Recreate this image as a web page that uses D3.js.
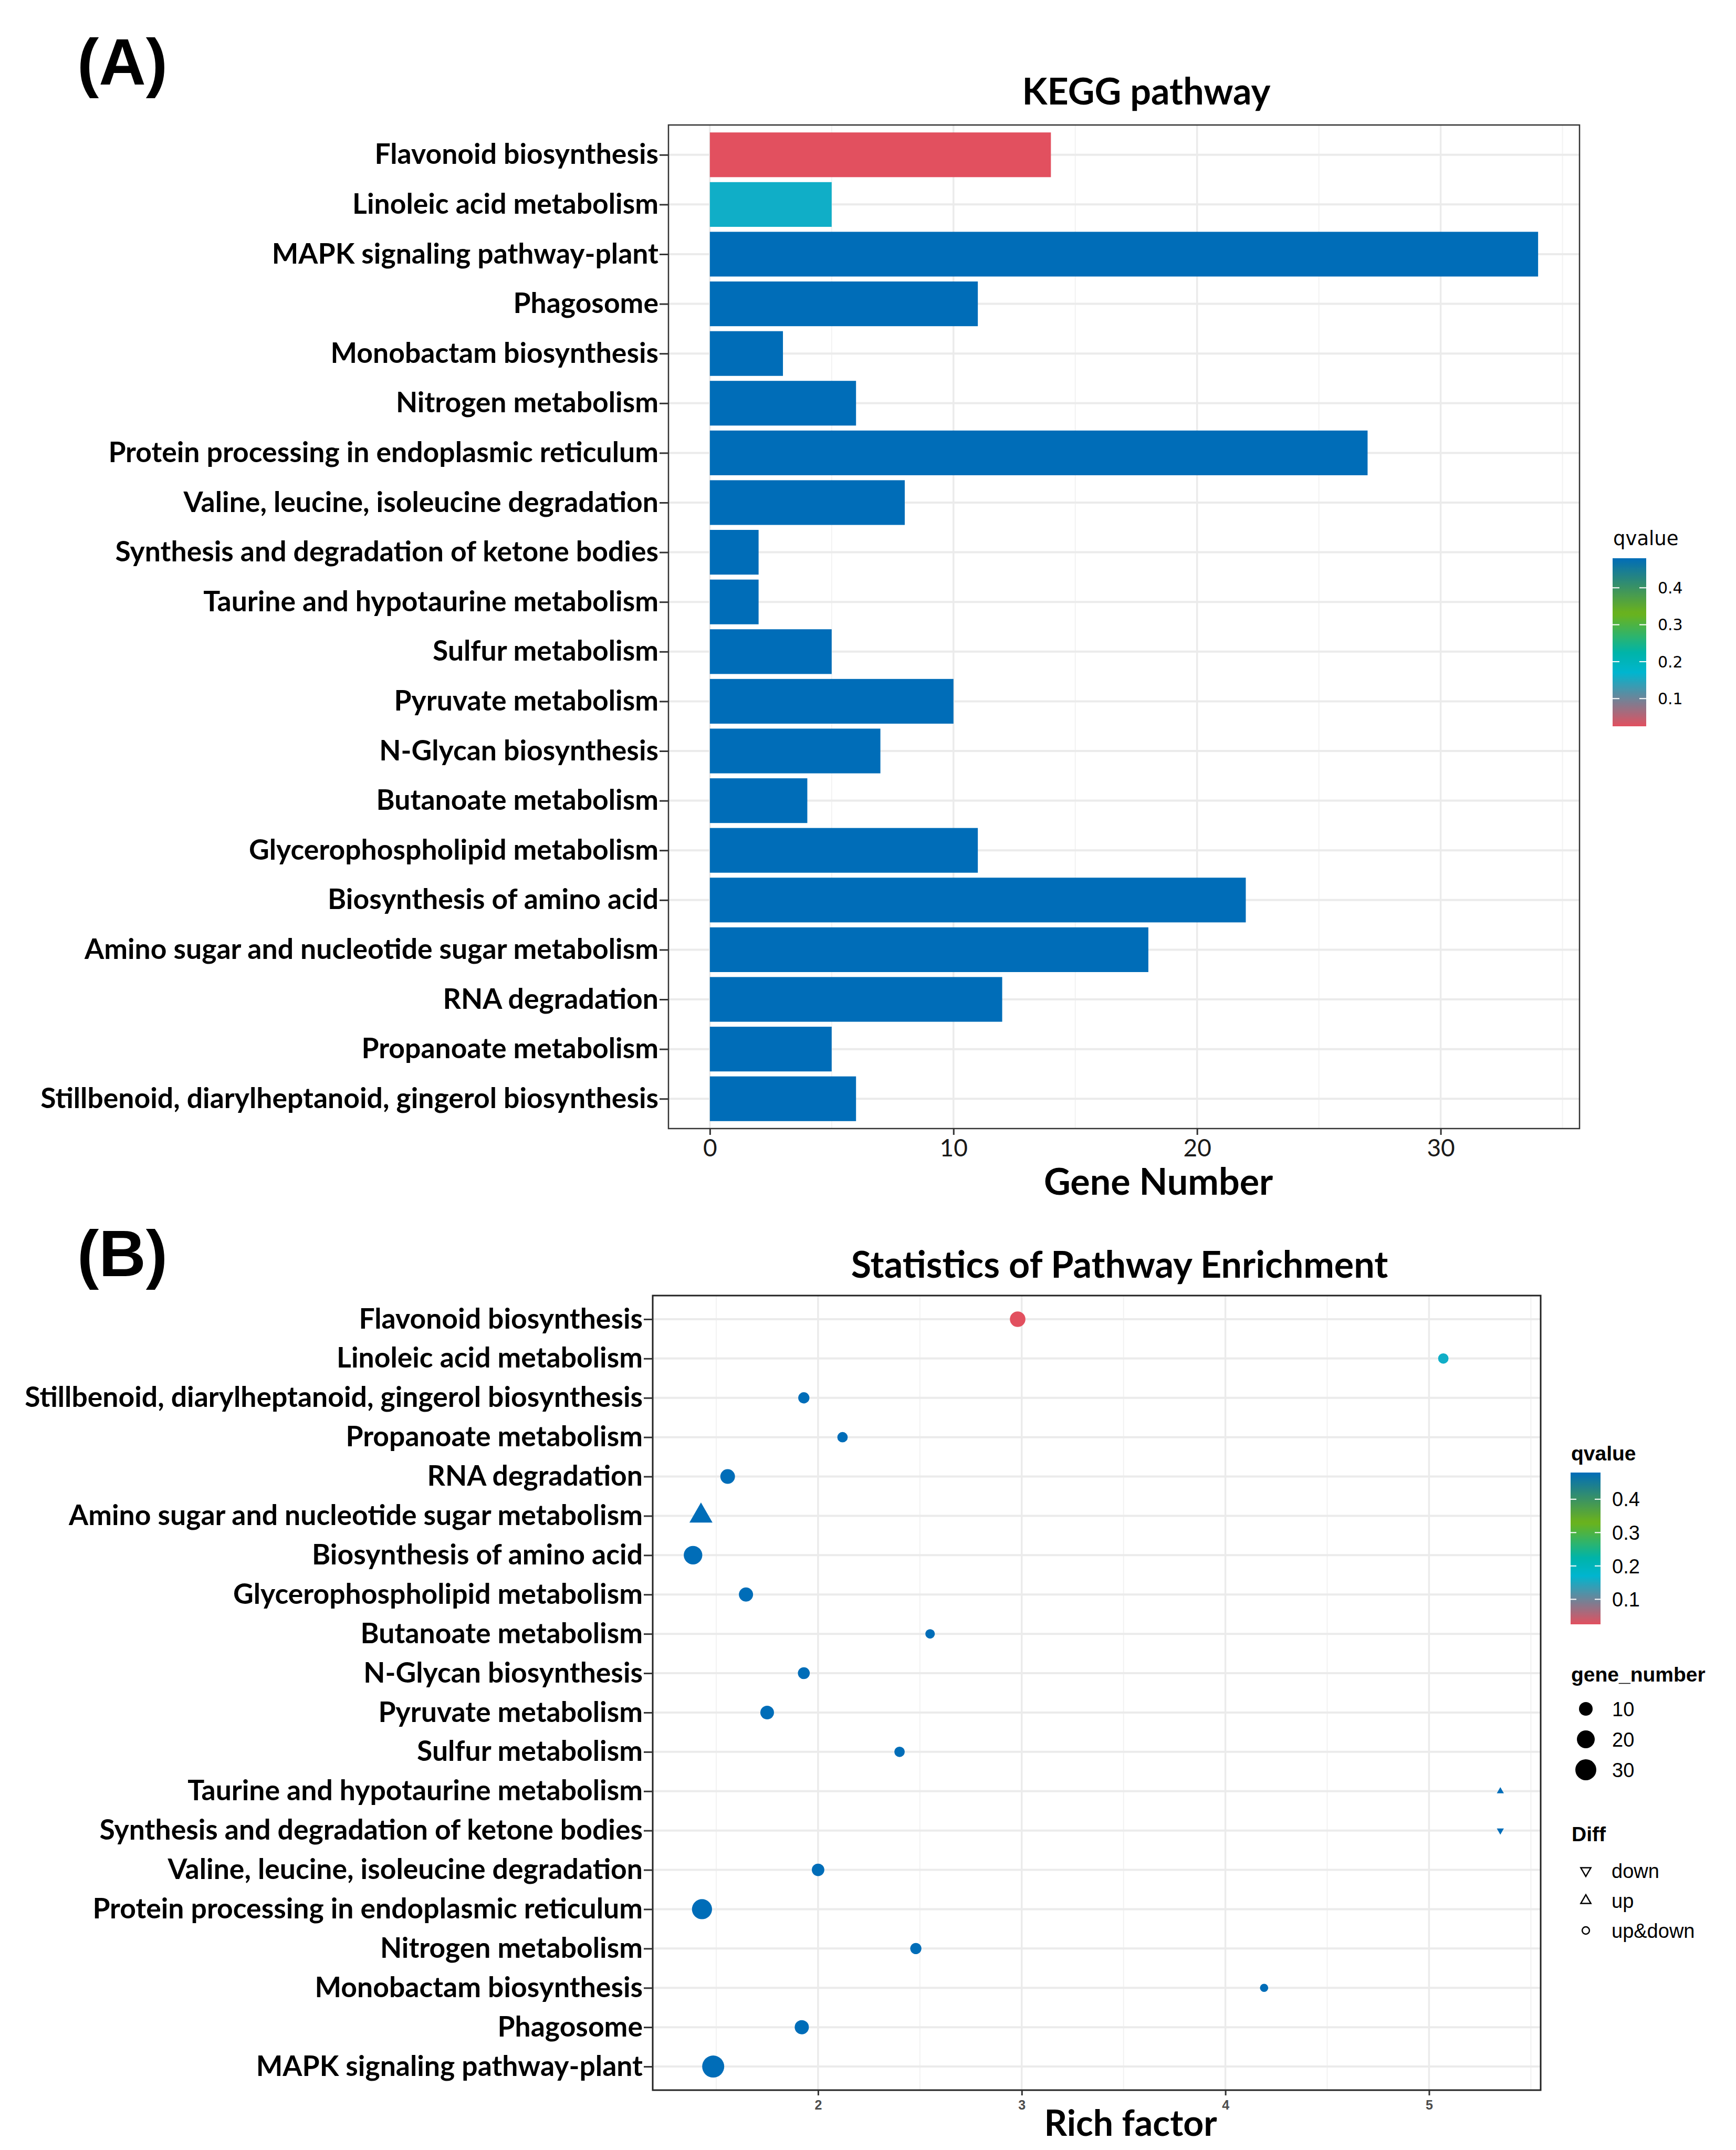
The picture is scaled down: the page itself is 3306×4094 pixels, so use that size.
<!DOCTYPE html>
<html>
<head>
<meta charset="utf-8">
<script src="https://cdn.jsdelivr.net/npm/d3@7"></script>
<style>
	body { margin: 0; background: #fff; }
	svg { display: block; }
</style>
</head>
<body>
<svg id="fig"></svg>
<script>
//Pathways in the order of panel (A), top to bottom.
const pathwaysA = [
	'Flavonoid biosynthesis',
	'Linoleic acid metabolism',
	'MAPK signaling pathway-plant',
	'Phagosome',
	'Monobactam biosynthesis',
	'Nitrogen metabolism',
	'Protein processing in endoplasmic reticulum',
	'Valine, leucine, isoleucine degradation',
	'Synthesis and degradation of ketone bodies',
	'Taurine and hypotaurine metabolism',
	'Sulfur metabolism',
	'Pyruvate metabolism',
	'N-Glycan biosynthesis',
	'Butanoate metabolism',
	'Glycerophospholipid metabolism',
	'Biosynthesis of amino acid',
	'Amino sugar and nucleotide sugar metabolism',
	'RNA degradation',
	'Propanoate metabolism',
	'Stillbenoid, diarylheptanoid, gingerol biosynthesis'
];
const geneNumber = [14, 5, 34, 11, 3, 6, 27, 8, 2, 2, 5, 10, 7, 4, 11, 22, 18, 12, 5, 6];
const qvalue = [0.025, 0.16, 0.48, 0.48, 0.48, 0.48, 0.48, 0.48, 0.48, 0.48,
	0.48, 0.48, 0.48, 0.48, 0.48, 0.48, 0.48, 0.48, 0.48, 0.48];

//Pathways in the order of panel (B), top to bottom.
const pathwaysB = [
	'Flavonoid biosynthesis',
	'Linoleic acid metabolism',
	'Stillbenoid, diarylheptanoid, gingerol biosynthesis',
	'Propanoate metabolism',
	'RNA degradation',
	'Amino sugar and nucleotide sugar metabolism',
	'Biosynthesis of amino acid',
	'Glycerophospholipid metabolism',
	'Butanoate metabolism',
	'N-Glycan biosynthesis',
	'Pyruvate metabolism',
	'Sulfur metabolism',
	'Taurine and hypotaurine metabolism',
	'Synthesis and degradation of ketone bodies',
	'Valine, leucine, isoleucine degradation',
	'Protein processing in endoplasmic reticulum',
	'Nitrogen metabolism',
	'Monobactam biosynthesis',
	'Phagosome',
	'MAPK signaling pathway-plant'
];
const richFactor = [2.98, 5.07, 1.93, 2.12, 1.556, 1.425, 1.386, 1.646, 2.55, 1.93,
	1.75, 2.40, 5.35, 5.35, 2.0, 1.43, 2.48, 4.19, 1.92, 1.485];
const diff = ['up&down', 'up&down', 'up&down', 'up&down', 'up&down', 'up', 'up&down', 'up&down', 'up&down', 'up&down',
	'up&down', 'up&down', 'up', 'down', 'up&down', 'up&down', 'up&down', 'up&down', 'up&down', 'up&down'];

const xTicksA = [0, 10, 20, 30];
const xMinorA = [5, 15, 25, 35];
const xTicksB = [2, 3, 4, 5];
const xMinorB = [1.5, 2.5, 3.5, 4.5, 5.5];
const qTicks = [0.1, 0.2, 0.3, 0.4];
const sizeBreaks = [10, 20, 30];
const diffLevels = ['down', 'up', 'up&down'];

const width = 3306, height = 4094;
const svg = d3.select('#fig').attr('width', width).attr('height', height);
svg.append('rect').attr('width', width).attr('height', height).attr('fill', '#fff');

//Shared colour scale for qvalue.
const qDomain = [0.025, 0.48];
const colour = d3.scaleLinear()
	.domain([0.025, 0.17, 0.225, 0.33, 0.48])
	.range(['#E2505F', '#00B5CF', '#00B4A8', '#6CB31A', '#006DB8'])
	.interpolate(d3.interpolateRgb);

//Gene number -> radius, like ggplot's area palette.
const gMin = d3.min(geneNumber), gMax = d3.max(geneNumber);
const norm = d3.scaleLinear().domain([gMin, gMax]).range([0, 1]);
const rad = d3.scaleLinear().domain([0, 1]).range([5, 21]);
const radius = n => rad(Math.sqrt(norm(n)));

const geneOf = new Map(pathwaysA.map((p, i) => [p, geneNumber[i]]));
const qOf = new Map(pathwaysA.map((p, i) => [p, qvalue[i]]));

const labelFont = 'Lato, "Open Sans", sans-serif';
const defs = svg.append('defs');

function gradient(id) {
	const lg = defs.append('linearGradient').attr('id', id)
		.attr('x1', 0).attr('x2', 0).attr('y1', 1).attr('y2', 0);
	d3.range(0, 1.0001, 0.02).forEach(t => {
		lg.append('stop').attr('offset', t)
			.attr('stop-color', colour(qDomain[0] + t * (qDomain[1] - qDomain[0])));
	});
}
gradient('gradA');
gradient('gradB');

function styleGrid(g, x, y, major, minor, rows, left, right, top, bottom) {
	g.selectAll('.minor').data(minor).join('line')
		.attr('x1', d => x(d)).attr('x2', d => x(d))
		.attr('y1', top).attr('y2', bottom)
		.attr('stroke', '#F2F2F2').attr('stroke-width', 2);
	g.selectAll('.major').data(major).join('line')
		.attr('x1', d => x(d)).attr('x2', d => x(d))
		.attr('y1', top).attr('y2', bottom)
		.attr('stroke', '#EBEBEB').attr('stroke-width', 3.5);
	g.selectAll('.row').data(rows).join('line')
		.attr('x1', left).attr('x2', right)
		.attr('y1', d => y(d)).attr('y2', d => y(d))
		.attr('stroke', '#EBEBEB').attr('stroke-width', 4);
}

//Panel (A): bar chart.
function renderA() {
	const left = 1273, right = 3008, top = 238, bottom = 2149;
	const x = d3.scaleLinear().domain([-1.7, 35.7]).range([left, right]);
	const y = d3.scalePoint().domain(pathwaysA).range([top, bottom]).padding(0.6);
	const barH = 0.9 * y.step();
	const g = svg.append('g');

	const grid = g.append('g');
	grid.append('g').call(s => styleGrid(s, x, y, xTicksA, xMinorA, pathwaysA, left, right, top, bottom));

	g.append('g').selectAll('rect').data(pathwaysA).join('rect')
		.attr('x', x(0))
		.attr('y', d => y(d) - barH / 2)
		.attr('width', (d, i) => x(geneNumber[i]) - x(0))
		.attr('height', barH)
		.attr('fill', (d, i) => colour(qvalue[i]));

	g.append('rect')
		.attr('x', left).attr('y', top)
		.attr('width', right - left).attr('height', bottom - top)
		.attr('fill', 'none').attr('stroke', '#333').attr('stroke-width', 2.5);

	//Axes.
	const ax = g.append('g').attr('transform', `translate(0,${bottom})`)
		.call(d3.axisBottom(x).tickValues(xTicksA).tickSize(12).tickFormat(d3.format('d')));
	ax.select('.domain').remove();
	ax.selectAll('line').attr('stroke', '#333').attr('stroke-width', 3);
	ax.selectAll('text').attr('y', 53).attr('dy', null)
		.style('font-family', labelFont).style('font-size', '46px').attr('fill', '#1a1a1a');

	const ay = g.append('g').attr('transform', `translate(${left},0)`)
		.call(d3.axisLeft(y).tickSize(17).tickPadding(2));
	ay.select('.domain').remove();
	ay.selectAll('line').attr('stroke', '#333').attr('stroke-width', 3);
	ay.selectAll('text')
		.style('font-family', labelFont).style('font-size', '53.5px').style('font-weight', 'bold')
		.attr('fill', '#000');

	//Titles.
	g.append('text').text('KEGG pathway')
		.attr('x', 2183).attr('y', 199).attr('text-anchor', 'middle')
		.style('font-family', labelFont).style('font-size', '70px').style('font-weight', 'bold');
	g.append('text').text('Gene Number')
		.attr('x', 2206).attr('y', 2275).attr('text-anchor', 'middle')
		.style('font-family', labelFont).style('font-size', '70px').style('font-weight', 'bold');

	//Colour legend.
	const bar = { x: 3071, y: 1063, w: 64, h: 320 };
	const ly = d3.scaleLinear().domain(qDomain).range([bar.y + bar.h, bar.y]);
	const lg = svg.append('g');
	lg.append('text').text('qvalue')
		.attr('x', 3072).attr('y', 1038)
		.style('font-family', '"DejaVu Sans", sans-serif').style('font-size', '37px');
	lg.append('rect').attr('x', bar.x).attr('y', bar.y).attr('width', bar.w).attr('height', bar.h)
		.attr('fill', 'url(#gradA)');
	lg.selectAll('.tl').data(qTicks).join('line')
		.attr('x1', bar.x).attr('x2', bar.x + 13).attr('y1', d => ly(d)).attr('y2', d => ly(d))
		.attr('stroke', '#fff').attr('stroke-width', 2);
	lg.selectAll('.tr').data(qTicks).join('line')
		.attr('x1', bar.x + bar.w - 13).attr('x2', bar.x + bar.w).attr('y1', d => ly(d)).attr('y2', d => ly(d))
		.attr('stroke', '#fff').attr('stroke-width', 2);
	lg.selectAll('.lab').data(qTicks).join('text')
		.text(d => d.toFixed(1))
		.attr('x', 3157).attr('y', d => ly(d)).attr('dy', '0.36em')
		.style('font-family', '"DejaVu Sans", sans-serif').style('font-size', '30px');
}

//Panel (B): enrichment dot plot.
function renderB() {
	const left = 1243, right = 2934, top = 2467, bottom = 3980;
	const x = d3.scaleLinear().domain([1.188, 5.548]).range([left, right]);
	const y = d3.scalePoint().domain(pathwaysB).range([top, bottom]).padding(0.6);
	const g = svg.append('g');

	g.append('g').call(s => styleGrid(s, x, y, xTicksB, xMinorB.filter(d => x(d) < right), pathwaysB, left, right, top, bottom));

	const sym = { 'up': d3.symbolTriangle, 'down': d3.symbolTriangle, 'up&down': d3.symbolCircle };
	g.append('g').selectAll('path').data(pathwaysB).join('path')
		.attr('d', (d, i) => d3.symbol().type(sym[diff[i]]).size(Math.PI * radius(geneOf.get(d)) ** 2)())
		.attr('transform', (d, i) => `translate(${x(richFactor[i])},${y(d)})` + (diff[i] === 'down' ? ' rotate(180)' : ''))
		.attr('fill', d => colour(qOf.get(d)));

	g.append('rect')
		.attr('x', left).attr('y', top)
		.attr('width', right - left).attr('height', bottom - top)
		.attr('fill', 'none').attr('stroke', '#222').attr('stroke-width', 3);

	const ax = g.append('g').attr('transform', `translate(0,${bottom})`)
		.call(d3.axisBottom(x).tickValues(xTicksB).tickSize(10).tickFormat(d3.format('d')));
	ax.select('.domain').remove();
	ax.selectAll('line').attr('stroke', '#333').attr('stroke-width', 3);
	ax.selectAll('text').attr('y', 37).attr('dy', null)
		.style('font-family', '"Liberation Sans", Arial, sans-serif').style('font-size', '25px')
		.style('font-weight', 'bold').attr('fill', '#4D4D4D');

	const ay = g.append('g').attr('transform', `translate(${left},0)`)
		.call(d3.axisLeft(y).tickSize(17).tickPadding(2));
	ay.select('.domain').remove();
	ay.selectAll('line').attr('stroke', '#333').attr('stroke-width', 3);
	ay.selectAll('text')
		.style('font-family', labelFont).style('font-size', '53.5px').style('font-weight', 'bold')
		.attr('fill', '#000');

	g.append('text').text('Statistics of Pathway Enrichment')
		.attr('x', 2132).attr('y', 2433).attr('text-anchor', 'middle')
		.style('font-family', labelFont).style('font-size', '70px').style('font-weight', 'bold');
	g.append('text').text('Rich factor')
		.attr('x', 2153).attr('y', 4067).attr('text-anchor', 'middle')
		.style('font-family', labelFont).style('font-size', '68px').style('font-weight', 'bold');

	//Legends.
	const legFont = '"Liberation Sans", Arial, sans-serif';
	const lg = svg.append('g').style('font-family', legFont);
	const bar = { x: 2991, y: 2804, w: 57, h: 289 };
	const ly = d3.scaleLinear().domain(qDomain).range([bar.y + bar.h, bar.y]);
	lg.append('text').text('qvalue').attr('x', 2992).attr('y', 2781)
		.style('font-size', '39px').style('font-weight', 'bold');
	lg.append('rect').attr('x', bar.x).attr('y', bar.y).attr('width', bar.w).attr('height', bar.h)
		.attr('fill', 'url(#gradB)');
	lg.selectAll('.tl').data(qTicks).join('line')
		.attr('x1', bar.x).attr('x2', bar.x + 11).attr('y1', d => ly(d)).attr('y2', d => ly(d))
		.attr('stroke', '#fff').attr('stroke-width', 2);
	lg.selectAll('.tr').data(qTicks).join('line')
		.attr('x1', bar.x + bar.w - 11).attr('x2', bar.x + bar.w).attr('y1', d => ly(d)).attr('y2', d => ly(d))
		.attr('stroke', '#fff').attr('stroke-width', 2);
	lg.selectAll('.lab').data(qTicks).join('text')
		.text(d => d.toFixed(1))
		.attr('x', 3070).attr('y', d => ly(d)).attr('dy', '0.36em')
		.style('font-size', '38px');

	//gene_number legend.
	const sy = d3.scalePoint().domain(sizeBreaks).range([3254, 3370]);
	lg.append('text').text('gene_number').attr('x', 2992).attr('y', 3202)
		.style('font-size', '39px').style('font-weight', 'bold');
	lg.selectAll('.sz').data(sizeBreaks).join('circle')
		.attr('cx', 3020).attr('cy', d => sy(d)).attr('r', d => radius(d)).attr('fill', '#000');
	lg.selectAll('.szl').data(sizeBreaks).join('text')
		.text(d => d).attr('x', 3070).attr('y', d => sy(d)).attr('dy', '0.36em')
		.style('font-size', '38px');

	//Diff legend.
	const dy = d3.scalePoint().domain(diffLevels).range([3562, 3676]);
	const legSym = { 'down': d3.symbolTriangle, 'up': d3.symbolTriangle, 'up&down': d3.symbolCircle };
	lg.append('text').text('Diff').attr('x', 2993).attr('y', 3506)
		.style('font-size', '39px').style('font-weight', 'bold');
	lg.selectAll('.ds').data(diffLevels).join('path')
		.attr('d', d => d3.symbol().type(legSym[d]).size(d === 'up&down' ? 150 : 160)())
		.attr('transform', d => `translate(3020,${dy(d)})` + (d === 'down' ? ' rotate(180)' : ''))
		.attr('fill', 'none').attr('stroke', '#000').attr('stroke-width', 2.5);
	lg.selectAll('.dl').data(diffLevels).join('text')
		.text(d => d).attr('x', 3069).attr('y', d => dy(d)).attr('dy', '0.36em')
		.style('font-size', '38px');
}

renderA();
renderB();

//Panel letters.
svg.append('text').text('(A)').attr('x', 147).attr('y', 161)
	.style('font-family', '"Liberation Sans", Arial, sans-serif').style('font-size', '124px').style('font-weight', 'bold');
svg.append('text').text('(B)').attr('x', 147).attr('y', 2430)
	.style('font-family', '"Liberation Sans", Arial, sans-serif').style('font-size', '124px').style('font-weight', 'bold');
</script>
</body>
</html>
